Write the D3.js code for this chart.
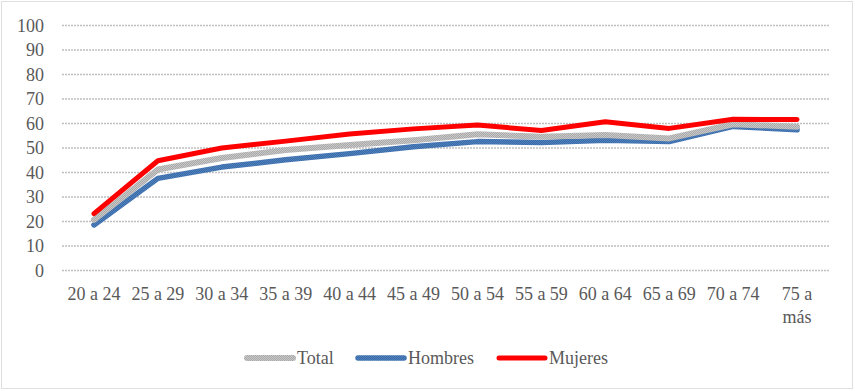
<!DOCTYPE html>
<html>
<head>
<meta charset="utf-8">
<script src="https://cdn.jsdelivr.net/npm/d3@7"></script>
<style>
  body { margin: 0; background: #fff; }
</style>
</head>
<body>
<div id="chart"></div>
<script>
// data
var grupos = ["20 a 24", "25 a 29", "30 a 34", "35 a 39", "40 a 44", "45 a 49",
              "50 a 54", "55 a 59", "60 a 64", "65 a 69", "70 a 74", "75 a más"];
var total   = [20.5, 41, 45.7, 49, 51, 53, 55.4, 54.4, 55.1, 53.7, 59.5, 58.5];
var hombres = [18.4, 37.4, 42, 45, 47.5, 50.3, 52.4, 52, 53, 52.4, 58.6, 57.2];
var mujeres = [23, 44.6, 49.8, 52.6, 55.5, 57.6, 59.2, 56.9, 60.5, 57.8, 61.5, 61.4];
var yTicks  = [0, 10, 20, 30, 40, 50, 60, 70, 80, 90, 100];

var svgWidth = 855;
var svgHeight = 391;
var fontFam = "'Liberation Serif'";
var fontSize = "18px";
var textCol = "#595959";

var margin = { top: 25, right: 26, bottom: 121, left: 62 };
var width = svgWidth - margin.left - margin.right;
var height = svgHeight - margin.top - margin.bottom;

var svg = d3.select("#chart")
    .append("svg")
    .attr("width", svgWidth)
    .attr("height", svgHeight);

// dithered strokes, like the original office export
var defs = svg.append("defs");
function dither(id, a, b) {
    var p = defs.append("pattern")
        .attr("id", id)
        .attr("width", 2).attr("height", 2)
        .attr("patternUnits", "userSpaceOnUse");
    p.append("rect").attr("width", 2).attr("height", 2).attr("fill", a);
    p.append("rect").attr("width", 1).attr("height", 1).attr("fill", b);
    p.append("rect").attr("x", 1).attr("y", 1).attr("width", 1).attr("height", 1).attr("fill", b);
}
dither("patTotal", "#c8c8c8", "#a9a9a9");
dither("patHombres", "#4f81bd", "#3a6aa8");

// outer border
svg.append("rect")
    .attr("x", 1.5).attr("y", 1.5)
    .attr("width", svgWidth - 4).attr("height", svgHeight - 4)
    .attr("fill", "none")
    .attr("stroke", "#bfbfbf")
    .attr("stroke-dasharray", "1,1");

var chartGroup = svg.append("g")
    .attr("transform", `translate(${margin.left}, ${margin.top})`);

var x = d3.scaleBand()
    .domain(grupos)
    .range([0, width])
    .padding(0);

var y = d3.scaleLinear()
    .domain([0, 100])
    .range([height, 0]);

// y axis + dotted gridlines
var leftAxis = d3.axisLeft(y)
    .tickValues(yTicks)
    .tickSize(-width)
    .tickPadding(18);

var yAxisG = chartGroup.append("g").call(leftAxis)
    .attr("font-family", fontFam).attr("font-size", fontSize);
yAxisG.select(".domain").remove();
yAxisG.selectAll("line")
    .attr("stroke", "#bfbfbf")
    .attr("stroke-width", 1.5)
    .attr("stroke-dasharray", "2,1");
yAxisG.selectAll("text")
    .style("font-family", fontFam)
    .style("font-size", fontSize)
    .attr("dy", "0.35em")
    .attr("fill", textCol);

// x axis labels (no line)
var xAxisG = chartGroup.append("g")
    .attr("transform", `translate(0, ${height})`)
    .call(d3.axisBottom(x).tickSize(0).tickPadding(0))
    .attr("font-family", fontFam).attr("font-size", fontSize);
xAxisG.select(".domain").remove();
xAxisG.selectAll("text").remove();
xAxisG.selectAll(".tick").each(function(d) {
    var t = d3.select(this).append("text")
        .attr("text-anchor", "middle")
        .style("font-family", fontFam)
        .style("font-size", fontSize)
        .attr("fill", textCol);
    if (d === "75 a más") {
        t.append("tspan").attr("x", 0).attr("y", 30).text("75 a");
        t.append("tspan").attr("x", 0).attr("y", 53).text("más");
    } else {
        t.attr("y", 30).text(d);
    }
});

var cx = function(d, i) { return x(grupos[i]) + x.bandwidth() / 2; };

var series = [
    { name: "Total", values: total, stroke: "url(#patTotal)", w: 6 },
    { name: "Hombres", values: hombres, stroke: "url(#patHombres)", w: 5.5 },
    { name: "Mujeres", values: mujeres, stroke: "#ff0000", w: 5 }
];

var line = d3.line()
    .x(cx)
    .y(function(d) { return y(d); });

[series[1], series[0], series[2]].forEach(function(s) {
    chartGroup.append("path")
        .datum(s.values)
        .attr("d", line)
        .attr("fill", "none")
        .attr("stroke", s.stroke)
        .attr("stroke-width", s.w)
        .attr("stroke-linejoin", "round")
        .attr("stroke-linecap", "round");
});

// legend
var legendX = [247, 358, 499];
var legend = svg.append("g").attr("transform", "translate(0, 358)");
series.forEach(function(s, i) {
    legend.append("line")
        .attr("x1", legendX[i]).attr("x2", legendX[i] + 46)
        .attr("y1", 0).attr("y2", 0)
        .attr("stroke", s.stroke)
        .attr("stroke-width", s.w)
        .attr("stroke-linecap", "round");
    legend.append("text")
        .attr("x", legendX[i] + 50)
        .attr("y", 6)
        .style("font-family", fontFam)
        .style("font-size", fontSize)
        .attr("fill", textCol)
        .text(s.name);
});
</script>
</body>
</html>
